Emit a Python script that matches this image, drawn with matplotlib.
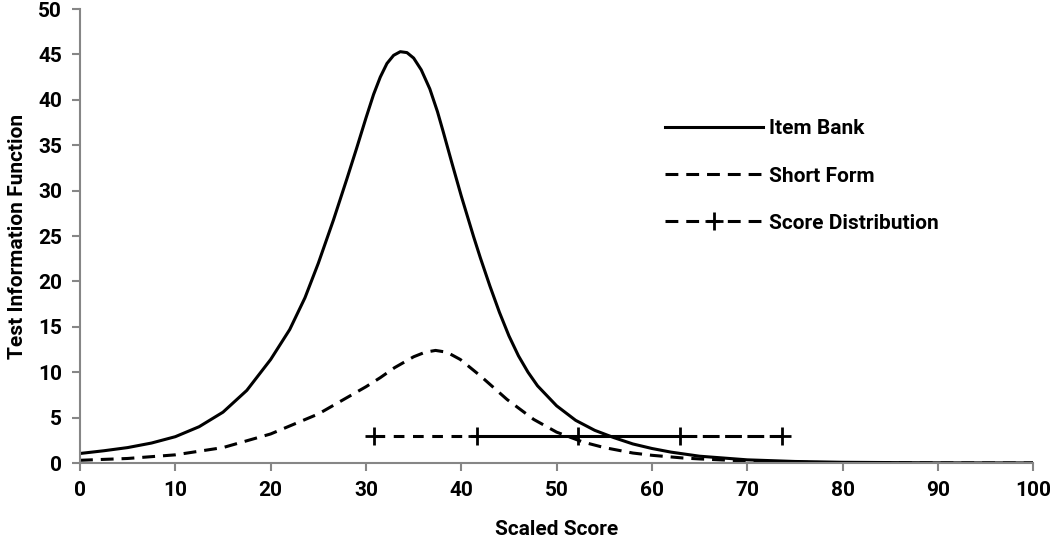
"""Test information functions for item bank and short form, with score distribution."""
import matplotlib.pyplot as plt
from matplotlib.lines import Line2D

plt.rcParams['font.family'] = ['Roboto', 'DejaVu Sans']
plt.rcParams['font.weight'] = 'bold'

# Item bank information
bank_x = [0, 2.5, 5, 7.5, 10, 12.5, 15, 17.5, 20, 22, 23.6, 25, 26.6, 28, 29, 30, 30.8,
          31.5, 32.2, 32.9, 33.6, 34.3, 35, 35.8, 36.7, 37.5, 38.1, 39, 40, 41.3, 42, 43,
          44, 45, 46, 47, 48, 50, 52, 54, 56, 58, 60, 62, 65, 70, 75, 80, 90, 100]
bank_y = [1.05, 1.35, 1.7, 2.2, 2.9, 4.0, 5.6, 8.0, 11.4, 14.7, 18.2, 22.0, 26.8, 31.3,
          34.6, 38.0, 40.6, 42.5, 44.0, 44.9, 45.3, 45.2, 44.6, 43.3, 41.2, 38.7, 36.5,
          33.1, 29.4, 24.9, 22.6, 19.5, 16.6, 14.0, 11.8, 10.0, 8.5, 6.3, 4.7, 3.6, 2.8,
          2.1, 1.6, 1.2, 0.75, 0.35, 0.17, 0.08, 0.02, 0.01]

# Short form information
short_x = [0, 5, 10, 15, 20, 25, 30, 31.5, 33, 35, 36.2, 37.3, 38.5, 39.9, 42, 44.8, 47.6,
           50, 52.8, 55, 58, 60, 63.3, 65, 68.6, 72, 76, 80, 90, 100]
short_y = [0.3, 0.5, 0.9, 1.7, 3.2, 5.4, 8.4, 9.4, 10.5, 11.7, 12.2, 12.4, 12.2, 11.4,
           9.6, 7.0, 4.8, 3.4, 2.3, 1.7, 1.1, 0.85, 0.55, 0.45, 0.28, 0.15, 0.07, 0.03,
           0.01, 0.0]

# Score distribution percentiles
dist_x = [30.85, 41.6, 52.2, 62.9, 73.6]
dist_y = [3, 3, 3, 3, 3]

fig = plt.figure(figsize=(10.5, 5.43), dpi=100)
ax = fig.add_axes([0.0762, 0.1473, 0.9078, 0.8361])

lw = 2.2
short_dash = (0, (4.2, 2.6))
ax.plot(bank_x, bank_y, color='black', linewidth=lw, solid_joinstyle='round')
ax.plot(short_x, short_y, color='black', linewidth=lw, linestyle=short_dash)

ax.plot(dist_x[0:2], dist_y[0:2], color='black', linewidth=lw, linestyle=(0, (3.5, 2.8)))
ax.plot(dist_x[1:4], dist_y[1:4], color='black', linewidth=lw)
ax.plot(dist_x[3:5], dist_y[3:5], color='black', linewidth=lw, linestyle=(0, (5.5, 1.8)))
ax.plot(dist_x, dist_y, linestyle='none', marker='+', markersize=13, markeredgewidth=2,
        color='black')

ax.set_xlim(0, 100)
ax.set_ylim(0, 50)
ax.set_xticks(range(0, 101, 10))
ax.set_yticks(range(0, 51, 5))

for side in ['top', 'right']:
    ax.spines[side].set_visible(False)
for side in ['left', 'bottom']:
    ax.spines[side].set_color('#868686')
    ax.spines[side].set_linewidth(1.5)
ax.tick_params(direction='out', length=6, width=1.5, color='#868686', labelsize=15,
               pad=7)
for lab in ax.get_xticklabels() + ax.get_yticklabels():
    lab.set_fontweight('bold')

ax.set_xlabel('Scaled Score', fontsize=15, fontweight='bold', labelpad=14)
ax.set_ylabel('Test Information Function', fontsize=15, fontweight='bold', labelpad=8)

handles = [
    Line2D([], [], color='black', linewidth=lw),
    Line2D([], [], color='black', linewidth=lw, linestyle=short_dash),
    Line2D([], [], color='black', linewidth=lw, linestyle=short_dash, marker='+',
           markersize=13, markeredgewidth=2),
]
ax.legend(handles, ['Item Bank', 'Short Form', 'Score Distribution'], frameon=False,
          loc='upper left', bbox_to_anchor=(0.594, 0.798), handlelength=4.7,
          handletextpad=0.3, labelspacing=1.35, prop={'size': 15, 'weight': 'bold'})

fig.savefig('out.png')
